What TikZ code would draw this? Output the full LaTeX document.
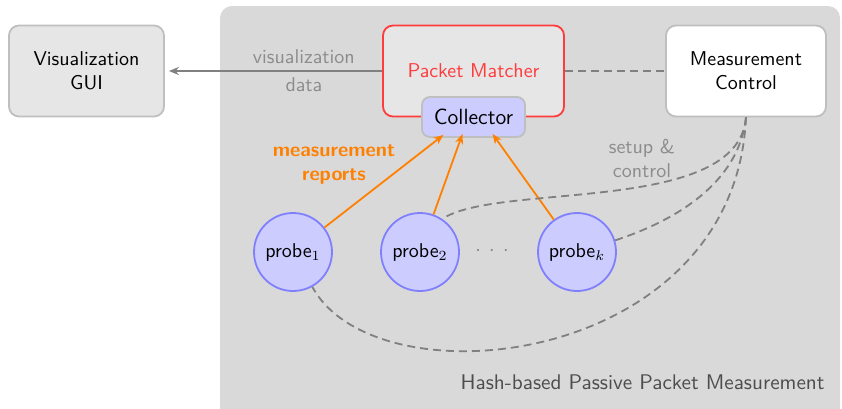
\documentclass[tikz,border=0pt]{standalone}
\usepackage{tikz}
\usetikzlibrary{arrows.meta,positioning,calc}
\definecolor{hpmgray}{HTML}{D9D9D9}
\definecolor{hpmbox}{HTML}{E6E6E6}
\definecolor{hpmline}{HTML}{BFBFBF}
\definecolor{hpmred}{HTML}{FF3B3B}
\definecolor{hpmorange}{HTML}{FF8000}
\definecolor{hpmlav}{HTML}{CCCCFF}
\definecolor{hpmblue}{HTML}{8080FF}
\definecolor{hpmtext}{HTML}{4D4D4D}
\tikzset{
  box/.style={rounded corners=5pt,draw=hpmline,fill=hpmbox,align=center,line width=0.9pt,font=\sffamily,minimum height=45.5pt},
  guibox/.style={box,minimum width=77.5pt},
  matcher/.style={box,draw=hpmred,text=hpmred,minimum width=90.5pt},
  ctrlbox/.style={box,fill=white,minimum width=80pt},
  collbox/.style={box,fill=hpmlav,minimum width=51.5pt,minimum height=20pt,rounded corners=4pt,font=\sffamily\fontsize{11}{13}\selectfont},
  probe/.style={circle,draw=hpmblue,fill=hpmlav,line width=0.9pt,minimum size=39pt,inner sep=0pt,font=\sffamily},
  lbl/.style={font=\sffamily,text=black!45,align=center},
  ar/.style={-{Stealth[length=5pt,width=4pt]},line width=0.9pt},
  dsh/.style={draw=black!50,line width=0.9pt,dash pattern=on 4pt off 2.5pt},
}
\begin{document}
\begin{tikzpicture}[x=0.5pt,y=-0.5pt]
  \useasboundingbox (0,0) rectangle (842,408);
  % measurement area
  \fill[hpmgray,rounded corners=6pt] (220,6) rectangle (840,420);
  \node[font=\sffamily\fontsize{10.6}{12}\selectfont,text=hpmtext,anchor=east,inner sep=0pt] (title) at (825,382) {Hash-based Passive Packet Measurement};
  % boxes
  \node[guibox] (gui) at (86.5,71) {Visualization\\GUI};
  \node[matcher] (matcher) at (473.5,71) {Packet Matcher};
  \node[ctrlbox] (ctrl) at (746,71) {Measurement\\Control};
  \node[collbox] (coll) at (473.5,117) {Collector};
  % probes
  \node[probe] (p1) at (293,252) {probe$_1$};
  \node[probe] (p2) at (420,252) {probe$_2$};
  \node[probe] (pk) at (577,252) {probe$_k$};
  \node[text=black!50] (dots) at (492,251) {$\cdot$\hspace{4.2pt}$\cdot$\hspace{4.2pt}$\cdot$};
  % links
  \draw[ar,draw=black!50,shorten >=2pt] (matcher.west) -- node[lbl,pos=0.36]{visualization\\[2pt]data} (gui.east);
  \draw[dsh] (matcher.east) -- (ctrl.west);
  \draw[ar,draw=hpmorange] (p1) -- ([xshift=-15pt,yshift=1.5pt]coll.south);
  \draw[ar,draw=hpmorange] (p2) -- ([xshift=-5.5pt,yshift=2pt]coll.south);
  \draw[ar,draw=hpmorange] (pk) -- ([xshift=9.5pt,yshift=2pt]coll.south);
  \node[font=\sffamily\bfseries,text=hpmorange,align=center] (rep) at (334,165) {measurement\\reports};
  \node[lbl] (setup) at (642,158) {setup \&\\control};
  \draw[dsh] (ctrl.south) .. controls +(-8,98) and +(55,-37) .. (p2.56);
  \draw[dsh] (ctrl.south) .. controls +(-8,73) and +(46,-15) .. (pk.17);
  \draw[dsh] (ctrl.south) .. controls +(-11,250) and +(64,118) .. (p1.-61);
\end{tikzpicture}
\end{document}
